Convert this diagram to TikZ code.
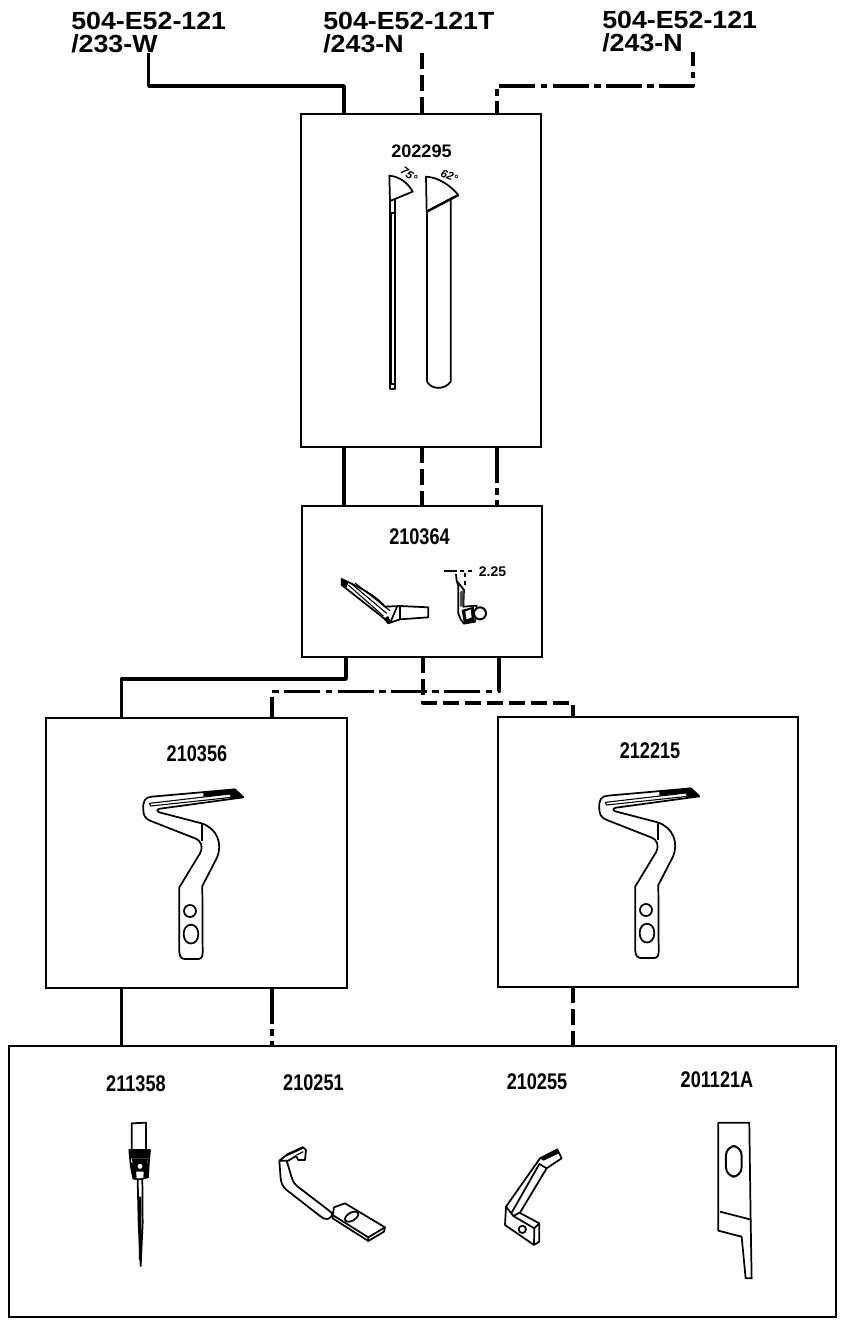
\documentclass[tikz,border=0pt]{standalone}
\usepackage{fontspec}
\setmainfont{Liberation Sans}
\newfontfamily\modelfont[FakeStretch=1.08]{Liberation Sans}
\newfontfamily\partfont[FakeStretch=0.8]{Liberation Sans}
\usetikzlibrary{calc}

\newcommand{\looperhook}[1]{%
  \begin{scope}[shift={#1},scale=0.3333]
    \draw[partline] (345,28) -- (95,50) .. controls (75,52) and (68,62) .. (70,90) .. controls (70,105) and (75,115) .. (90,122) -- (225,175) .. controls (245,183) and (250,200) .. (240,220) -- (178,322) -- (178,515) .. controls (178,530) and (185,537) .. (195,537) -- (235,537) .. controls (245,537) and (248,528) .. (248,518) -- (247,318) -- (290,235) .. controls (310,190) and (290,145) .. (245,130) -- (118,97) .. controls (110,93) and (110,88) .. (120,86) -- (370,52) -- cycle;
    \draw[line width=0.8pt] (88,70) -- (330,42) -- (335,52) -- (92,78) -- cycle;
    \fill (250,36) -- (345,28) -- (370,50) -- (335,55) -- (330,42) -- (250,50) -- cycle;
    \draw[partline] (245,133) -- (245,183);
    \draw[partline] (210,393) circle (18);
    \draw[partline] (191,462) .. controls (191,425) and (235,425) .. (235,462) .. controls (235,500) and (191,500) .. (191,462) -- cycle;
  \end{scope}}

\begin{document}
\begin{tikzpicture}[x=0.75pt,y=-0.75pt,
    partbox/.style={draw,line width=1.2pt,inner sep=0pt,outer sep=0pt},
    modellabel/.style={anchor=north west,align=left,inner sep=0pt,font=\modelfont\bfseries\fontsize{18.6pt}{17.25pt}\selectfont},
    partlabel/.style={inner sep=0pt,font=\partfont\bfseries\fontsize{17pt}{18pt}\selectfont},
    wiresolid/.style={line width=2.6pt,line join=round},
    wiredash/.style={line width=2.5pt,line join=round,dash pattern=on 12pt off 4.5pt},
    wiredot/.style={line width=2.5pt,line join=round,dash pattern=on 27pt off 4pt on 5pt off 4pt},
    partline/.style={line width=1.3pt,line join=round}]
  \useasboundingbox (0,0) rectangle (842,1320);

  \node[modellabel] (modelA) at (71,12) {504-E52-121\\/233-W};
  \node[modellabel] (modelB) at (323,12) {504-E52-121T\\/243-N};
  \node[modellabel] (modelC) at (602,11) {504-E52-121\\/243-N};

  \node[partbox,minimum width=180pt,minimum height=249.75pt] (boxTop) at (421,280.5) {};
  \node[partbox,minimum width=180pt,minimum height=113.25pt] (boxMid) at (422,581.5) {};
  \node[partbox,minimum width=225.75pt,minimum height=202.5pt] (boxLeft) at (196.5,853) {};
  \node[partbox,minimum width=225pt,minimum height=202.5pt] (boxRight) at (648,852) {};
  \node[partbox,minimum width=620.25pt,minimum height=203.25pt] (boxBottom) at (422.5,1181.5) {};

  \node[partlabel,yscale=0.8] (numTop) at (421.5,151.5) {202295};
  \node[partlabel] (numMid) at (419.5,536.5) {210364};
  \node[partlabel] (numLeft) at (197,754) {210356};
  \node[partlabel] (numRight) at (650,751) {212215};
  \node[partlabel] (numNeedle) at (136,1083.5) {211358};
  \node[partlabel] (numPlate) at (313.5,1082.5) {210251};
  \node[partlabel] (numFinger) at (537,1082) {210255};
  \node[partlabel] (numKnife) at (717,1080) {201121A};

  % connectors
  \coordinate (solidTop) at (344,86);
  \coordinate (dashTop) at (422,86);
  \coordinate (dotTop) at (693,86);
  \coordinate (dotIn) at (497,86);
  \coordinate (solidBend) at (346,679);
  \coordinate (solidDrop) at (121.5,679);
  \coordinate (dotBend) at (499,691.5);
  \coordinate (dotDrop) at (272,691.5);
  \coordinate (dashBend) at (423,703);
  \coordinate (dashDrop) at (573,703);

  \draw[wiresolid] (modelA.south) |- (solidTop) -- (boxTop.north -| solidTop);
  \draw[wiresolid] (boxTop.south -| solidTop) -- (boxMid.north -| solidTop);
  \draw[wiresolid] (boxMid.south -| solidBend) -- (solidBend) -- (solidDrop) -- (boxLeft.north -| solidDrop);
  \draw[wiresolid] (boxLeft.south -| solidDrop) -- (boxBottom.north -| solidDrop);

  \draw[wiredash] (modelB.south -| dashTop) -- (boxTop.north -| dashTop);
  \draw[wiredash] (boxTop.south -| dashTop) -- (boxMid.north -| dashTop);
  \draw[wiredash] (boxMid.south -| dashBend) -- (dashBend) -- (dashDrop) -- (boxRight.north -| dashDrop);
  \draw[wiredash] (boxRight.south -| dashDrop) -- (boxBottom.north -| dashDrop);

  \draw[wiredot,dash phase=16.5pt] (modelC.south -| dotTop) -- (dotTop) -- (dotIn) -- (boxTop.north -| dotIn);
  \draw[wiredot] (boxTop.south -| dotIn) -- (boxMid.north -| dotIn);
  \draw[wiredot] (boxMid.south -| dotBend) -- (dotBend) -- (dotDrop) -- (boxLeft.north -| dotDrop);
  \draw[wiredot] (boxLeft.south -| dotDrop) -- (boxBottom.north -| dotDrop);

  % 202295
  \begin{scope}[shift={(360,130)},scale=0.3333]
    \draw[partline] (88,137) .. controls (120,140) and (145,160) .. (158,185) -- (90,213) -- cycle;
    \draw[partline] (89,213) -- (89,778) -- (105,778) -- (105,207);
    \draw[line width=0.8pt] (94,250) -- (94,760);
    \draw[partline] (89,250) -- (105,250);
    \draw[partline] (89,762) -- (105,762);
    \draw[partline] (198,140) .. controls (235,142) and (270,165) .. (295,195) -- (200,245) -- cycle;
    \draw[line width=1.8pt] (295,195) -- (200,245);
    \draw[partline] (201,245) -- (201,755) .. controls (215,780) and (255,780) .. (272,755) -- (272,205);
    \node[font=\itshape\bfseries\fontsize{8.5pt}{9pt}\selectfont,rotate=-35,inner sep=0pt] (angleA) at (147,134) {75°};
    \node[font=\itshape\bfseries\fontsize{8.5pt}{9pt}\selectfont,rotate=-22,inner sep=0pt] (angleB) at (268,138) {62°};
  \end{scope}

  % 210364
  \begin{scope}[shift={(320,510)},scale=0.3333]
    \draw[partline] (65,207) .. controls (115,230) and (165,255) .. (195,290) -- (240,288) -- (325,292) -- (325,322) -- (240,328) -- (205,340) -- (192,325) -- (65,225) -- cycle;
    \foreach \s in {0,10,20}
      \draw[line width=0.8pt] (85+\s,225-\s*0.3) -- (190+\s,318-\s*0.8);
    \draw[partline] (240,288) -- (240,328);
    \draw[partline] (232,288) -- (212,335);
    \fill (65,207) -- (85,217) -- (80,232) -- (65,225) -- cycle;
    \fill (192,325) -- (205,318) -- (212,335) -- (205,340) -- cycle;
    \draw[partline,dashed] (372,184) -- (457,184);
    \draw[line width=1.6pt] (385,184) -- (412,184);
    \draw[partline,dashed] (435,190) -- (435,228);
    \draw[partline] (408,192) -- (410,212) -- (415,228) -- (415,310) -- (422,328) -- (432,341) -- (465,335) -- (470,287) -- (430,290) -- (432,240) -- (410,212);
    \fill[black!70] (420,245) -- (431,240) -- (430,288) -- (420,290) -- cycle;
    \fill (425,300) -- (462,290) -- (462,335) -- (432,341) -- cycle;
    \fill[white] (436,305) -- (452,298) -- (455,322) -- (440,328) -- cycle;
    \draw[line width=1.5pt,fill=white] (480,310) circle (18);
    \node[font=\bfseries\fontsize{10.5pt}{11pt}\selectfont,anchor=west,inner sep=0pt] (gapText) at (476,186) {2.25};
  \end{scope}

  \looperhook{(120,780)}
  \looperhook{(576,779)}

  % 211358
  \begin{scope}[shift={(90,1090)},scale=0.3333]
    \draw[partline] (125,178) -- (125,100) -- (168,98) -- (168,178);
    \draw[partline] (118,180) -- (180,180) -- (176,225) -- (174,262) -- (150,268) -- (130,266) -- (122,225) -- cycle;
    \fill (118,180) -- (180,180) -- (178,205) -- (122,205) -- cycle;
    \fill (122,218) -- (135,218) -- (140,262) -- (130,266) -- cycle;
    \fill (176,218) -- (163,218) -- (160,262) -- (174,262) -- cycle;
    \fill (125,205) -- (175,205) -- (165,245) -- (135,245) -- cycle;
    \draw[line width=1pt,fill=white] (150,229) circle (10);
    \draw[partline] (143,268) -- (146,400) -- (152,528) -- (158,400) -- (157,268);
    \draw[line width=2pt] (150,320) -- (151,510);
  \end{scope}

  % 210251
  \begin{scope}[shift={(90,1090)},scale=0.3333]
    \draw[partline] (568,212) -- (572,265) .. controls (574,280) and (578,290) .. (590,300) -- (690,378) .. controls (705,392) and (722,390) .. (728,372);
    \draw[partline] (590,212) -- (605,262) .. controls (610,280) and (620,288) .. (630,295) -- (715,360) .. controls (722,365) and (728,370) .. (728,378);
    \draw[partline] (568,212) -- (590,195) -- (640,172) -- (648,180) -- (645,210) -- (625,210) -- (618,198) -- (595,212) -- (568,212);
    \draw[line width=0.8pt] (620,195) -- (640,185);
    \draw[line width=1.8pt] (590,195) -- (640,172);
    \draw[partline] (732,352) -- (765,340) -- (885,412) -- (835,442) -- (728,375) -- cycle;
    \draw[partline] (885,412) -- (882,425) -- (835,453) -- (835,442);
    \draw[partline] (835,453) -- (728,385) -- (728,375);
    \draw[partline,rotate around={30:(785,380)}] (785,380) ellipse (22 and 12);
  \end{scope}

  % 210255
  \begin{scope}[shift={(480,1090)},scale=0.3333]
    \draw[partline] (78,350) -- (180,205) -- (232,178) -- (245,205) -- (200,235) -- (120,368);
    \draw[partline] (95,368) -- (178,222) -- (200,235);
    \fill (180,205) -- (232,178) -- (237,190) -- (190,212) -- cycle;
    \draw[partline] (78,350) -- (75,405) -- (162,465) -- (178,455) -- (178,400) -- (118,368) -- (100,378) -- cycle;
    \draw[partline] (100,378) -- (163,415) -- (178,400);
    \draw[partline] (163,415) -- (162,465);
    \draw[partline] (127,418) circle (11);
  \end{scope}

  % 201121A
  \begin{scope}[shift={(480,1090)},scale=0.3333]
    \draw[partline] (715,98) -- (808,98) -- (812,388) -- (815,565) -- (797,565) -- (785,440) -- (765,435) -- (715,422) -- cycle;
    \draw[partline] (720,365) -- (810,388);
    \draw[line width=1.5pt,rounded corners=7pt] (738,168) rectangle (785,260);
  \end{scope}
\end{tikzpicture}
\end{document}
